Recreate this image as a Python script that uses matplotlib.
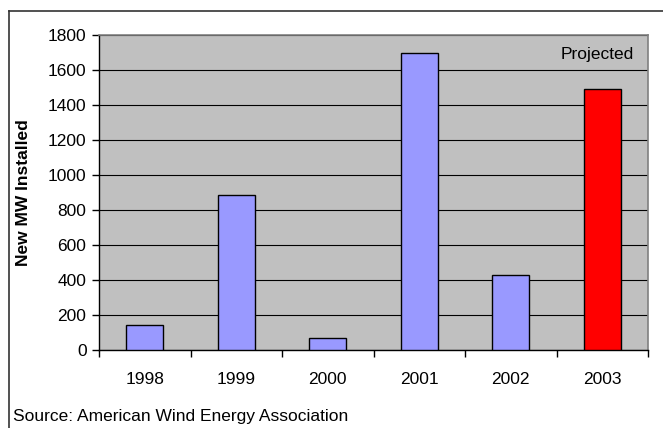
import matplotlib
matplotlib.use("Agg")
import matplotlib.pyplot as plt
from matplotlib.lines import Line2D

plt.rcParams['font.family'] = ['Liberation Sans', 'DejaVu Sans']

years = ["1998", "1999", "2000", "2001", "2002", "2003"]
new_mw = [141, 886, 67, 1696, 430, 1492]
bar_colors = ["#9999FF", "#9999FF", "#9999FF", "#9999FF", "#9999FF", "#FF0000"]
y_ticks = [0, 200, 400, 600, 800, 1000, 1200, 1400, 1600, 1800]

FS = 12.5
W, H = 663, 428

fig = plt.figure(figsize=(W / 100, H / 100), dpi=100)
fig.patch.set_facecolor("white")

# outer chart frame (top and left edges)
fig.lines.append(Line2D([8.5 / W, 1.0], [1 - 11 / H, 1 - 11 / H], transform=fig.transFigure,
                        color="#333333", linewidth=1.2))
fig.lines.append(Line2D([8.5 / W, 8.5 / W], [0.0, 1 - 11 / H], transform=fig.transFigure,
                        color="#333333", linewidth=1.2))

ax = fig.add_axes([99 / W, 1 - 350 / H, (648 - 99) / W, (350 - 35) / H])
ax.set_facecolor("#C0C0C0")

x = list(range(len(years)))
ax.bar(x, new_mw, width=0.4, color=bar_colors, edgecolor="black", linewidth=1.0, zorder=3)

ax.set_xlim(-0.5, len(years) - 0.5)
ax.set_ylim(0, 1800)
ax.set_yticks(y_ticks)
ax.set_yticklabels([str(v) for v in y_ticks], fontsize=FS)
ax.set_xticks(x)
ax.set_xticklabels(years, fontsize=FS)
ax.set_xticks([i - 0.5 for i in range(len(years) + 1)], minor=True)
ax.tick_params(axis="x", which="major", length=0, pad=16)
ax.tick_params(axis="x", which="minor", length=5, width=1, direction="out", color="black")
ax.tick_params(axis="y", length=5, width=1, direction="out", color="black", pad=4)

ax.grid(axis="y", color="black", linewidth=0.8, zorder=1)
ax.set_axisbelow(True)

for side in ("top", "right"):
    ax.spines[side].set_color("#808080")
    ax.spines[side].set_linewidth(1.2)
for side in ("left", "bottom"):
    ax.spines[side].set_color("black")
    ax.spines[side].set_linewidth(1.0)

ax.set_ylabel("New MW Installed", fontsize=FS, fontweight="bold", labelpad=12)

ax.text(634 / W, 1 - 55 / H, "Projected", transform=fig.transFigure, ha="right", va="center",
        fontsize=FS, color="black")

fig.text(13 / W, 1 - 416 / H, "Source: American Wind Energy Association",
         ha="left", va="center", fontsize=FS)

fig.savefig("out.png", dpi=100)
